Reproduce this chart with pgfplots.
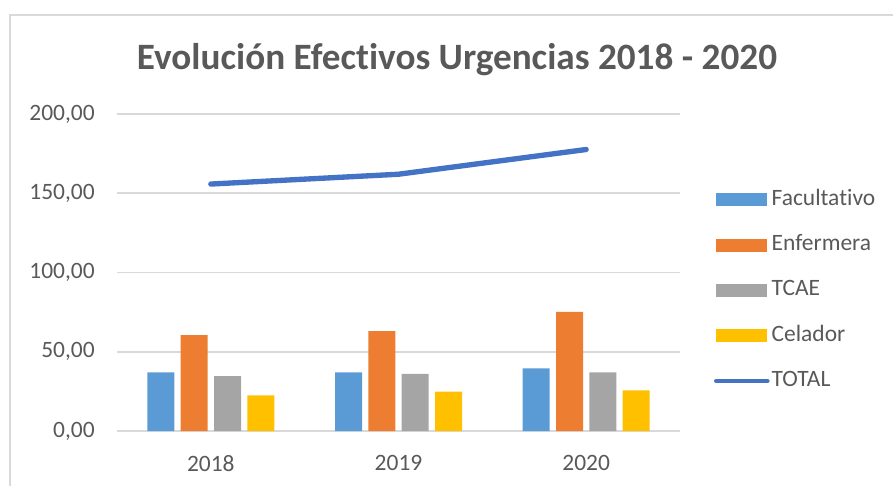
\documentclass[border=0pt]{standalone}
\usepackage{pgfplots}
\pgfplotsset{compat=1.18}
\usepackage{fontspec}
\setmainfont{Carlito}[Ligatures=NoCommon]
\definecolor{cFac}{HTML}{5B9BD5}
\definecolor{cEnf}{HTML}{ED7D31}
\definecolor{cTca}{HTML}{A5A5A5}
\definecolor{cCel}{HTML}{FFC000}
\definecolor{cTot}{HTML}{4472C4}
\definecolor{txt}{HTML}{595959}
\definecolor{grd}{HTML}{D9D9D9}
\begin{document}
\begin{tikzpicture}[x=0.75pt,y=0.75pt]
\path[use as bounding box] (0,0) rectangle (893,486);
\draw[grd, line width=1.5pt] (9.5,0) -- (9.5,471) -- (893,471);
\node[anchor=base, text=txt, font=\fontsize{27.9}{32}\selectfont\bfseries, inner sep=0pt] at (457,416) {Evolución Efectivos Urgencias 2018 - 2020};
\begin{axis}[
  at={(87.75pt,41.25pt)}, anchor=south west,
  scale only axis, width=422.25pt, height=237.75pt,
  xmin=-0.5, xmax=2.5, ymin=0, ymax=200,
  xtick={0,1,2}, xticklabels={2018,2019,2020},
  ytick={0,50,100,150,200},
  axis line style={draw=none},
  major tick length=0pt,
  ymajorgrids, grid style={grd, line width=1.2pt},
  tick label style={font=\fontsize{17.6}{20}\selectfont, text=txt},
  /pgf/number format/assume math mode=true,
  /pgf/number format/fixed,
  /pgf/number format/fixed zerofill,
  /pgf/number format/precision=2,
  /pgf/number format/use comma,
  /pgf/number format/1000 sep={},
  yticklabel style={anchor=east, inner sep=0pt, xshift=-16.5pt},
  xticklabel style={anchor=north, inner sep=0pt, yshift=-18pt},
  legend style={at={(1.0604,0.7634)}, anchor=north west, draw=none, fill=none,
    inner sep=0pt, outer sep=0pt, font=\fontsize{17.6}{20}\selectfont, text=txt,
    row sep=18pt,
    nodes={inner sep=0pt, text height=12pt, text depth=4pt},
    /tikz/every odd column/.append style={column sep=1.5pt}},
  legend cell align=left,
]
\addplot[ybar, bar width=20.25pt, bar shift=-37.5pt, fill=cFac, draw=none,
  legend image code/.code={\fill[cFac] (0pt,-4.875pt) rectangle (38.25pt,4.875pt);}]
  coordinates {(0,37.0) (1,37.0) (2,39.5)};
\addlegendentry{Facultativo}
\addplot[ybar, bar width=20.25pt, bar shift=-12.5pt, fill=cEnf, draw=none,
  legend image code/.code={\fill[cEnf] (0pt,-4.875pt) rectangle (38.25pt,4.875pt);}]
  coordinates {(0,60.5) (1,63.0) (2,75.2)};
\addlegendentry{Enfermera}
\addplot[ybar, bar width=20.25pt, bar shift=12.5pt, fill=cTca, draw=none,
  legend image code/.code={\fill[cTca] (0pt,-4.875pt) rectangle (38.25pt,4.875pt);}]
  coordinates {(0,34.7) (1,36.1) (2,37.0)};
\addlegendentry{TCAE}
\addplot[ybar, bar width=20.25pt, bar shift=37.5pt, fill=cCel, draw=none,
  legend image code/.code={\fill[cCel] (0pt,-4.875pt) rectangle (38.25pt,4.875pt);}]
  coordinates {(0,22.5) (1,24.8) (2,25.6)};
\addlegendentry{Celador}
\addplot[sharp plot, cTot, line width=4pt, line cap=round, line join=round, mark=none,
  legend image code/.code={\draw[cTot, line width=3.5pt, line cap=round] (0pt,0pt) -- (38.25pt,0pt);}]
  coordinates {(0,155.8) (1,162.0) (2,177.6)};
\addlegendentry{TOTAL}
\end{axis}
\end{tikzpicture}
\end{document}
